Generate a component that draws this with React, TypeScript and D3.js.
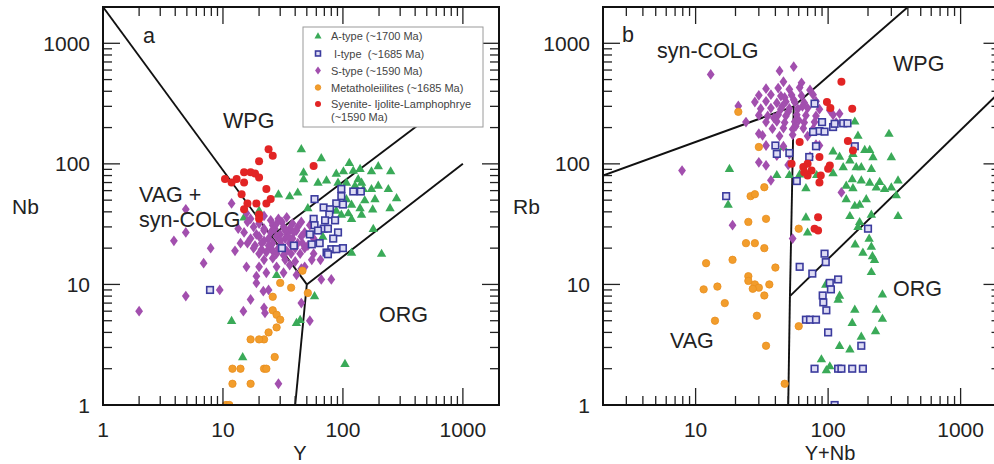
import React from "react";
import * as d3 from "d3";

type P = [number, number];

// ---------- legend / tick labels ----------
const legendLabels = [
  "A-type (~1700 Ma)",
  " I-type  (~1685 Ma)",
  "S-type (~1590 Ma)",
  "Metatholeiilites (~1685 Ma)",
  "Syenite- Ijolite-Lamphophrye",
  "(~1590 Ma)",
];
const tickLabelsAX = [1, 10, 100, 1000];
const tickLabelsAY = [1, 10, 100, 1000];
const tickLabelsBX = [10, 100, 1000];
const tickLabelsBY = [1, 10, 100, 1000];

// ---------- panel a : Nb vs Y ----------
const aAtype: P[] = [
  [45, 133], [66, 112], [113, 102], [197, 96], [139, 91], [122, 88], [101, 87], [88, 83], [173, 87], [250, 87],
  [47, 85], [47, 75], [62, 70], [73, 73], [91, 70], [107, 70], [134, 75], [143, 70], [126, 66], [148, 62],
  [173, 62], [197, 66], [239, 62], [280, 52], [152, 50], [185, 51], [107, 51], [118, 46], [139, 43], [177, 42],
  [247, 43], [88, 41], [97, 38], [111, 39], [118, 35], [143, 38], [179, 29], [118, 18.4], [210, 18], [29, 56],
  [36, 54], [42, 58], [51, 43], [20, 41], [15, 36], [28, 12], [58, 8], [11.8, 5], [41, 4.8], [44, 5.1],
  [14.6, 2.5], [104, 2.2], [68, 25],
];
const aItype: P[] = [
  [97, 62], [122, 59], [141, 59], [97, 54], [58, 51], [88, 47], [69, 43.5], [78, 42], [100, 46], [77, 38],
  [57, 35], [71, 34], [86, 34], [58, 31], [69, 29], [62, 28], [75, 29], [91, 27], [53, 26], [83, 24],
  [100, 20], [64, 22], [55, 21.5], [80, 19.6], [88, 19.6], [73, 18.4], [75, 17.8], [7.8, 9], [31, 20], [39, 21],
];
const aStype: P[] = [
  [17, 35], [22, 37], [29, 35], [34, 36], [16, 33], [20, 32], [25, 34], [31, 33], [38, 32], [45, 33],
  [18, 30], [22, 29], [26, 31], [32, 30], [36, 29], [42, 30], [53, 31], [15, 27], [19, 26], [22, 28],
  [25, 27], [30, 26], [35, 27], [41, 28], [48, 27], [17, 24], [20, 25], [24, 24], [28, 25], [33, 24],
  [38, 24], [45, 25], [57, 24], [16, 22], [18.5, 21], [22, 23], [26, 22], [31, 21], [36, 22], [42, 22],
  [51, 21], [18, 20], [21, 19.5], [25, 20], [29, 20], [34, 19], [40, 20], [48, 20], [20, 18], [23, 18.5],
  [28, 18], [32, 17.5], [37, 18], [44, 18], [22, 16], [26, 16.5], [33, 16], [40, 15.5], [55, 16], [20, 14],
  [28, 14], [36, 14.5], [45, 13.5], [23, 12.5], [32, 12.5], [41, 12], [27, 29], [30, 23], [24, 21], [35, 25],
  [28, 32], [39, 27], [21, 22], [33, 28], [46, 22], [26, 19],
  [2, 6], [3.9, 23], [4.9, 27], [4.9, 42], [4.9, 8], [6.9, 15], [7.9, 20], [9.4, 9], [11.8, 47], [12.6, 19],
  [13.4, 29], [14, 22], [15.7, 39], [14.8, 6], [15.7, 14], [19, 11.7], [19, 10.3], [21.7, 8.8], [24, 9], [17, 7.5],
  [22, 6.4], [22.4, 5.8], [29, 1.5], [53, 5], [45, 7], [66, 11], [80, 11], [57, 18], [65, 16], [48, 14],
];
const aMeta: P[] = [
  [46, 13], [37, 9.4], [51, 8.5], [30, 10.3], [26, 7.9], [26, 6.1], [28, 5.6], [30, 5.1], [28, 4.4], [24, 4],
  [22, 3.5], [20, 3.5], [17, 3.5], [27, 2.5], [22, 2], [23, 2], [14, 2], [12, 2], [12, 1.5], [17, 1.5],
  [10.6, 1], [11.3, 1],
];
const aSyen: P[] = [
  [24, 132], [26, 117], [20, 105], [15, 85], [17, 85], [18.5, 83], [20, 77], [10.4, 75], [13, 75], [11.8, 70],
  [15, 70], [23, 62], [14.3, 56], [16, 47], [19, 47], [23, 47], [25, 51], [15, 42], [20, 38], [20, 35], [57, 96],
];

// ---------- panel b : Rb vs Y+Nb ----------
const bAtype: P[] = [
  [159, 225], [288, 178], [168, 172], [109, 127], [122, 115], [189, 131], [206, 131], [218, 114], [154, 121], [146, 107],
  [130, 94], [163, 94], [178, 94], [212, 91], [300, 114], [152, 75], [178, 73], [206, 70], [245, 71], [337, 73],
  [137, 66], [154, 63], [231, 64], [267, 62], [300, 64], [68, 63], [137, 51], [194, 51], [327, 55], [159, 45],
  [173, 46], [146, 37], [337, 37], [173, 33], [212, 38], [168, 30], [68, 36], [70, 27], [160, 21.5], [183, 18.4],
  [216, 17.2], [224, 16], [204, 24], [212, 20.6], [212, 12.7], [96, 10], [122, 8.1], [119, 7.5], [159, 6.2], [152, 4.8],
  [231, 6.2], [257, 8.3], [257, 5.2], [228, 4.1], [178, 3.7], [122, 3.1], [146, 2.9], [89, 2.4], [103, 2.1], [97, 1.95],
  [18, 91], [17.6, 46], [46, 138], [41, 81], [51, 81], [61, 82], [82, 81], [109, 84],
];
const bItype: P[] = [
  [79, 316], [90, 222], [86, 187], [77, 184], [94, 185], [109, 202], [112, 215], [130, 217], [140, 217], [159, 140],
  [81, 140], [72, 114], [40, 142], [41, 121], [51, 123], [58, 72], [17, 54], [200, 29], [94, 18], [96, 15.3],
  [61, 14], [76, 12.3], [119, 11], [103, 10.3], [105, 9.1], [91, 8.1], [92, 7.1], [97, 6.1], [68, 5.1], [73, 5.1],
  [81, 5.1], [100, 4], [178, 3.1], [79, 2], [119, 2], [126, 2], [152, 2], [183, 2], [112, 1],
];
const bStype: P[] = [
  [46, 480], [63, 470], [34, 420], [42, 425], [51, 415], [61, 430], [73, 410], [30, 370], [37, 375], [44, 365],
  [53, 372], [63, 368], [77, 375], [28, 326], [34, 330], [41, 320], [48, 328], [56, 325], [66, 322], [81, 330],
  [31, 287], [37, 290], [44, 284], [51, 288], [59, 285], [70, 290], [86, 284], [30, 253], [35, 250], [42, 255],
  [48, 250], [58, 256], [68, 252], [81, 250], [109, 255], [34, 222], [41, 225], [47, 220], [56, 224], [66, 220],
  [79, 222], [115, 220], [38, 196], [46, 198], [54, 194], [65, 197], [77, 195], [32, 172], [43, 170], [54, 174],
  [70, 170], [34, 142], [46, 140], [81, 144], [41, 117], [51, 120], [73, 115], [34, 97], [50, 98],
  [45, 300], [55, 340], [39, 240], [60, 230], [50, 270], [64, 300], [57, 205], [47, 355],
  [13, 552], [21, 302], [24, 222], [30, 178], [7.9, 88], [19, 31], [54, 24], [126, 58], [43, 590], [55, 640],
  [37, 73], [30, 103], [86, 142], [103, 278], [122, 261],
];
const bMeta: P[] = [
  [33, 64], [26, 54], [28, 56], [34, 35], [25, 33], [24, 22], [28, 22], [33, 20], [19, 16], [12, 15],
  [40, 13.8], [25, 11.7], [25, 10.7], [28, 10], [30, 9.4], [27, 9.2], [36, 10], [11.5, 9.1], [14.6, 9.6], [33, 8.1],
  [16.6, 7], [29, 5.5], [14, 5], [34, 3.1], [47, 1.5], [60, 4.5], [60, 29], [21, 270], [30, 138],
];
const bSyen: P[] = [
  [126, 480], [98, 326], [104, 290], [152, 287], [141, 155], [154, 129], [61, 152], [53, 100], [65, 94], [70, 100],
  [75, 88], [70, 80], [66, 85], [86, 114], [103, 97], [100, 91], [88, 80], [86, 70], [84, 36], [79, 29], [84, 28],
];

// ---------- boundary lines ----------
const linesA: P[][] = [
  [[1, 2000], [50, 10]],
  [[40, 1], [50, 10]],
  [[50, 10], [1000, 100]],
  [[25, 25], [1000, 400]],
];
const linesB: P[][] = [
  [[2, 80], [55, 300]],
  [[55, 300], [400, 2000]],
  [[55, 300], [51.5, 8]],
  [[51.5, 8], [50, 1]],
  [[51.5, 8], [2000, 400]],
];

const FONT = "Arial, 'Liberation Sans', Helvetica, sans-serif";
const GREEN = "#3aaa58";
const BLUE = "#3b3b9e";
const PURPLE = "#a24fae";
const ORANGE = "#f29d2c";
const RED = "#e22424";
const TXT = "#222";

type Kind = "A" | "I" | "S" | "M" | "R";

function Marker({ kind, x, y, s = 1 }: { kind: Kind; x: number; y: number; s?: number }) {
  if (kind === "A")
    return <path d={`M${x},${y - 5 * s}L${x + 4.7 * s},${y + 3.2 * s}L${x - 4.7 * s},${y + 3.2 * s}Z`} fill={GREEN} />;
  if (kind === "I")
    return <rect x={x - 3.3 * s} y={y - 3.3 * s} width={6.6 * s} height={6.6 * s} fill="#dedcf4" stroke={BLUE} strokeWidth={1.6} />;
  if (kind === "S")
    return <path d={`M${x},${y - 5.4 * s}L${x + 3.9 * s},${y}L${x},${y + 5.4 * s}L${x - 3.9 * s},${y}Z`} fill={PURPLE} />;
  if (kind === "M") return <circle cx={x} cy={y} r={3.7 * s} fill={ORANGE} stroke="#e88e1e" strokeWidth={0.8} />;
  return <circle cx={x} cy={y} r={4 * s} fill={RED} />;
}

const Y0 = 405;
const Y1 = 7;

function Panel({
  id, xs, ys, series, lines, xLabels, yLabels, yLabelX, xTitle, xTitleX, yTitle, yTitleX,
}: {
  id: string;
  xs: d3.ScaleLogarithmic<number, number>;
  ys: d3.ScaleLogarithmic<number, number>;
  series: { kind: Kind; data: P[] }[];
  lines: P[][];
  xLabels: number[];
  yLabels: number[];
  yLabelX: number;
  xTitle: string;
  xTitleX: number;
  yTitle: string;
  yTitleX: number;
}) {
  const [x0, x1] = xs.range();
  const line = d3.line<P>().x((d) => xs(d[0])).y((d) => ys(d[1]));
  const isMajor = (v: number) => Math.abs(Math.log10(v) - Math.round(Math.log10(v))) < 1e-9;
  const maj = 17, mnr = 9;
  return (
    <g>
      <defs>
        <clipPath id={`clip-${id}`}>
          <rect x={x0} y={Y1} width={x1 - x0} height={Y0 - Y1} />
        </clipPath>
      </defs>
      <g clipPath={`url(#clip-${id})`}>
        {lines.map((l, i) => (
          <path key={i} d={line(l) || ""} fill="none" stroke="#111" strokeWidth={1.9} />
        ))}
        {series.map((s) =>
          s.data.map((d, i) => <Marker key={s.kind + i} kind={s.kind} x={xs(d[0])} y={ys(d[1])} />)
        )}
      </g>
      {xs.ticks().map((v, i) => {
        const len = isMajor(v) ? maj : mnr;
        const x = xs(v);
        return (
          <g key={"xt" + i} stroke="#222" strokeWidth={1.3}>
            <line x1={x} x2={x} y1={Y0} y2={Y0 - len} />
            <line x1={x} x2={x} y1={Y1} y2={Y1 + len} />
          </g>
        );
      })}
      {ys.ticks().map((v, i) => {
        const len = isMajor(v) ? maj : mnr;
        const y = ys(v);
        return (
          <g key={"yt" + i} stroke="#222" strokeWidth={1.3}>
            <line x1={x0} x2={x0 + len} y1={y} y2={y} />
            <line x1={x1} x2={x1 - len} y1={y} y2={y} />
          </g>
        );
      })}
      <rect x={x0} y={Y1} width={x1 - x0} height={Y0 - Y1} fill="none" stroke="#111" strokeWidth={2} />
      {xLabels.map((v) => (
        <text key={"xl" + v} x={xs(v)} y={437} textAnchor="middle" fontSize={21} fill={TXT} fontFamily={FONT}>
          {v}
        </text>
      ))}
      {yLabels.map((v) => (
        <text key={"yl" + v} x={yLabelX} y={ys(v) + 7.5} textAnchor="end" fontSize={21} fill={TXT} fontFamily={FONT}>
          {v}
        </text>
      ))}
      <text x={xTitleX} y={460} textAnchor="middle" fontSize={20} fill={TXT} fontFamily={FONT}>
        {xTitle}
      </text>
      <text x={yTitleX} y={214} fontSize={21} fill={TXT} fontFamily={FONT}>
        {yTitle}
      </text>
    </g>
  );
}

export default function App() {
  const ys = d3.scaleLog().domain([1, 2000]).range([Y0, Y1]);
  const xa = d3.scaleLog().domain([1, 2000]).range([103, 499]);
  const xb = d3.scaleLog().domain([2, 2000]).range([603, 1000.5]);

  const seriesA = [
    { kind: "A" as Kind, data: aAtype },
    { kind: "S" as Kind, data: aStype },
    { kind: "I" as Kind, data: aItype },
    { kind: "M" as Kind, data: aMeta },
    { kind: "R" as Kind, data: aSyen },
  ];
  const seriesB = [
    { kind: "A" as Kind, data: bAtype },
    { kind: "S" as Kind, data: bStype },
    { kind: "I" as Kind, data: bItype },
    { kind: "M" as Kind, data: bMeta },
    { kind: "R" as Kind, data: bSyen },
  ];
  const legendKinds: (Kind | null)[] = ["A", "I", "S", "M", "R", null];
  const legendY = [36, 53.5, 70.5, 87.5, 104, 117];

  const lab = (t: string, x: number, y: number, k: string) => (
    <text key={k} x={x} y={y} fontSize={21.5} fill={TXT} fontFamily={FONT}>
      {t}
    </text>
  );

  return (
    <svg
      width={994}
      height={464}
      style={{ position: "absolute", left: 0, top: 0, background: "#fff" }}
      fontFamily={FONT}
    >
      <rect x={0} y={0} width={994} height={464} fill="#fff" />
      <Panel
        id="a" xs={xa} ys={ys} series={seriesA} lines={linesA}
        xLabels={tickLabelsAX} yLabels={tickLabelsAY} yLabelX={90}
        xTitle="Y" xTitleX={300} yTitle="Nb" yTitleX={12}
      />
      <Panel
        id="b" xs={xb} ys={ys} series={seriesB} lines={linesB}
        xLabels={tickLabelsBX} yLabels={tickLabelsBY} yLabelX={590}
        xTitle="Y+Nb" xTitleX={830} yTitle="Rb" yTitleX={513}
      />
      {lab("a", 143, 43, "la")}
      {lab("WPG", 223, 128, "l1")}
      {lab("VAG +", 139, 202, "l2")}
      {lab("syn-COLG", 139, 227, "l3")}
      {lab("ORG", 379, 322, "l4")}
      {lab("b", 622, 42, "lb")}
      {lab("syn-COLG", 657, 58, "l5")}
      {lab("WPG", 893, 71, "l6")}
      {lab("ORG", 893, 296, "l7")}
      {lab("VAG", 670, 348, "l8")}
      <rect x={303} y={27} width={180} height={100} fill="#fff" stroke="#9a9a9a" strokeWidth={1} />
      {legendLabels.map((t, i) => (
        <g key={"lg" + i}>
          {legendKinds[i] && <Marker kind={legendKinds[i] as Kind} x={318} y={legendY[i]} s={0.75} />}
          <text
            x={331}
            y={legendY[i] + 4}
            fontSize={11}
            fill="#444"
            fontFamily={FONT}
            style={{ whiteSpace: "pre" }}
          >
            {t}
          </text>
        </g>
      ))}
    </svg>
  );
}
